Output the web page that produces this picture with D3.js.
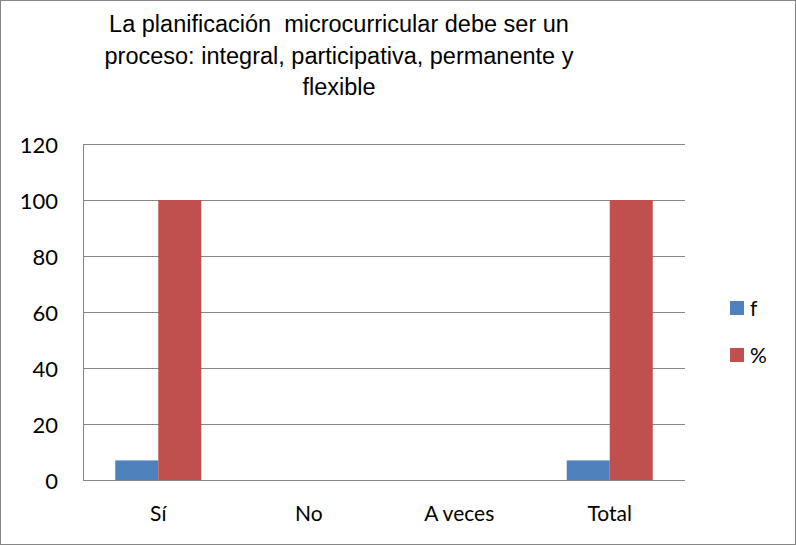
<!DOCTYPE html>
<html><head><meta charset="utf-8">
<script src="https://cdn.jsdelivr.net/npm/d3@7"></script>
<style>body{margin:0;background:#fff}svg{display:block}</style>
</head><body>
<script>
const categories = ["Sí", "No", "A veces", "Total"];
const seriesNames = ["f", "%"];
const fValues = [7, 0, 0, 7];
const pctValues = [100, 0, 0, 100];
const yTicks = [0, 20, 40, 60, 80, 100, 120];
const titleLines = ["La planificación  microcurricular debe ser un", "proceso: integral, participativa, permanente y", "flexible"];
const colors = ["#4F81BD", "#C0504D"];

const W = 796, H = 545;
const svg = d3.select("body").append("svg").attr("width", W).attr("height", H);
svg.append("rect").attr("x", 0.5).attr("y", 0.5).attr("width", W - 1).attr("height", H - 1)
  .attr("fill", "#fff").attr("stroke", "#868686");

const m = {left: 83, right: 685, top: 145, bottom: 481};
const x = d3.scaleBand().domain(categories).range([m.left, m.right]).paddingInner(0).paddingOuter(0);
const y = d3.scaleLinear().domain([0, 120]).range([m.bottom, m.top]);

// gridlines
svg.append("g").selectAll("line").data(yTicks).join("line")
  .attr("x1", m.left).attr("x2", m.right)
  .attr("y1", d => Math.round(y(d)) - 0.5).attr("y2", d => Math.round(y(d)) - 0.5)
  .attr("stroke", "#868686").attr("stroke-width", 1);
svg.append("line").attr("x1", m.left + 0.5).attr("x2", m.left + 0.5)
  .attr("y1", m.top - 1).attr("y2", m.bottom).attr("stroke", "#868686");

// y axis labels
const yAxis = d3.axisLeft(y).tickValues(yTicks).tickSize(0).tickPadding(0);
const ya = svg.append("g").attr("transform", `translate(${m.left - 25},0)`).call(yAxis);
ya.select(".domain").remove();
ya.selectAll("text").attr("font-family", "Lato, 'Open Sans', sans-serif").attr("font-size", 22)
  .attr("fill", "#000").attr("dy", "0.36em");

// bars
const bw = x.bandwidth() / 3.5;
const data = categories.map((c, i) => ({c, vals: [fValues[i], pctValues[i]]}));
const g = svg.append("g");
data.forEach(d => {
  d.vals.forEach((v, j) => {
    const cx = x(d.c) + x.bandwidth() / 2;
    g.append("rect")
      .attr("x", cx - bw + j * bw).attr("width", bw)
      .attr("y", y(v) - 1).attr("height", y(0) - y(v))
      .attr("fill", colors[j]);
  });
});

// x labels
const xAxis = d3.axisBottom(x).tickSize(0).tickPadding(0);
const xa = svg.append("g").attr("transform", `translate(0,${m.bottom + 25})`).call(xAxis);
xa.select(".domain").remove();
xa.selectAll("text").attr("font-family", "Lato, 'Open Sans', sans-serif").attr("font-size", 21)
  .attr("fill", "#000").attr("dy", "0.71em");

// title
svg.append("g").selectAll("text").data(titleLines).join("text")
  .attr("x", 339).attr("y", (d, i) => 32 + i * 31.5)
  .attr("text-anchor", "middle")
  .style("white-space", "pre")
  .attr("font-family", "'Liberation Sans', Arial, sans-serif").attr("font-size", 23.5)
  .attr("fill", "#000").text(d => d);

// legend
const leg = svg.append("g");
seriesNames.forEach((s, i) => {
  const ly = 308 + i * 47;
  leg.append("rect").attr("x", 730).attr("y", ly - 7).attr("width", 14).attr("height", 14).attr("fill", colors[i]);
  leg.append("text").attr("x", 750).attr("y", ly).attr("dy", "0.36em")
    .attr("font-family", "Lato, 'Open Sans', sans-serif").attr("font-size", 21).attr("fill", "#000").text(s);
});
</script>
</body></html>
